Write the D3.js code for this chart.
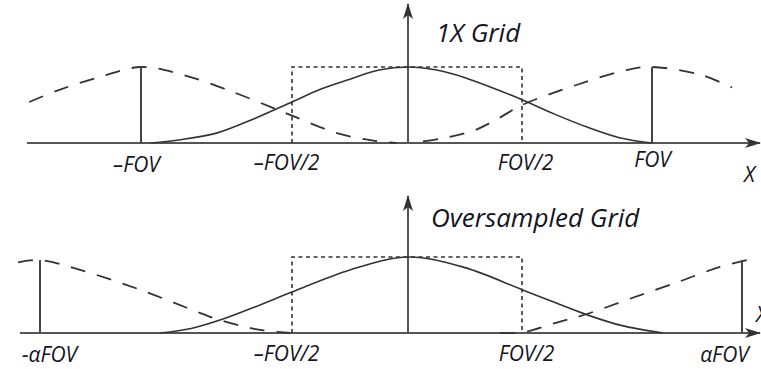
<!DOCTYPE html>
<html>
<head>
<meta charset="utf-8">
<script src="https://cdn.jsdelivr.net/npm/d3@7"></script>
<style>
  body { margin: 0; background: #fff; }
  svg text { font-family: "Open Sans", sans-serif; font-style: italic; font-weight: 500; fill: #15151f; }
</style>
</head>
<body>
<script>
// Tick positions (units of FOV) and labels
const topTicks = [-1, -0.5, 0.5, 1];
const topTickLabels = ["\u2013FOV", "\u2013FOV/2", "FOV/2", "FOV"];
const botTicks = [-1.5, -0.5, 0.5, 1.5];
const botTickLabels = ["-\u03b1FOV", "\u2013FOV/2", "FOV/2", "\u03b1FOV"];

// 1X grid: kernel at 0 (solid) and replicas at -FOV / +FOV (dashed), height relative to peak
const topKernelX = [-0.967, -0.875, -0.75, -0.625, -0.5, -0.375, -0.25, -0.125, 0, 0.125, 0.25, 0.375, 0.5, 0.625, 0.75, 0.875, 1];
const topKernelY = [0, 0.04, 0.13, 0.32, 0.54, 0.71, 0.84, 0.96, 1, 0.96, 0.86, 0.72, 0.57, 0.38, 0.21, 0.07, 0];
const topLeftX = [-1.37, -1.27, -1.136, -1, -0.864, -0.695, -0.556, -0.5, -0.306, -0.15, -0.05];
const topLeftY = [0.54, 0.70, 0.87, 1, 0.9, 0.67, 0.45, 0.36, 0.13, 0.03, 0];
const topRightX = [0.066, 0.15, 0.294, 0.4, 0.5, 0.715, 0.915, 1, 1.185, 1.308];
const topRightY = [0.02, 0.06, 0.17, 0.33, 0.5, 0.77, 0.97, 1, 0.9, 0.73];
const topSpikes = [-1, 1];
const topSpikeH = [1, 1];

// Oversampled grid: replicas at -aFOV / +aFOV
const botKernelX = [-1.024, -0.9, -0.786, -0.65, -0.5, -0.25, 0, 0.25, 0.5, 0.65, 0.795, 0.95, 1.14];
const botKernelY = [0, 0.06, 0.17, 0.34, 0.54, 0.83, 1, 0.86, 0.57, 0.4, 0.24, 0.1, 0];
const botLeftX = [-1.587, -1.5, -1.341, -1.103, -0.893, -0.786, -0.627, -0.508];
const botLeftY = [0.93, 0.96, 0.83, 0.57, 0.3, 0.17, 0.04, 0];
const botRightX = [0.404, 0.505, 0.65, 0.795, 0.99, 1.218, 1.4, 1.523];
const botRightY = [0, 0.01, 0.13, 0.25, 0.45, 0.68, 0.87, 0.96];
const botSpikes = [-1.5, 1.5];
const botSpikeH = [0.96, 0.96];

// Field of view box
const boxX = [-0.5, 0.5];
const boxH = 1;

const width = 761, height = 369;

const svg = d3.select("body").append("svg")
    .attr("width", width)
    .attr("height", height);

const defs = svg.append("defs");
defs.append("marker")
    .attr("id", "arrow")
    .attr("viewBox", "0 0 16 10")
    .attr("refX", 15).attr("refY", 5)
    .attr("markerWidth", 16).attr("markerHeight", 10)
    .attr("markerUnits", "userSpaceOnUse")
    .attr("orient", "auto")
    .append("path")
    .attr("d", "M0,0 L16,5 L0,10 L4,5 Z")
    .attr("fill", "#333");

function panel(cfg) {
    const x = d3.scaleLinear().domain(cfg.domain).range(cfg.range);
    const y = d3.scaleLinear().domain([0, 1]).range([cfg.base, cfg.peak]);
    const g = svg.append("g");

    // horizontal axis with arrow
    g.append("line")
        .attr("x1", cfg.axisStart).attr("x2", 760)
        .attr("y1", cfg.base).attr("y2", cfg.base)
        .attr("stroke", "#555").attr("stroke-width", 2)
        .attr("marker-end", "url(#arrow)");

    // vertical axis with arrow
    g.append("line")
        .attr("x1", x(0)).attr("x2", x(0))
        .attr("y1", cfg.base).attr("y2", cfg.top)
        .attr("stroke", "#555").attr("stroke-width", 2)
        .attr("marker-end", "url(#arrow)");

    // tick labels
    const axis = g.append("g")
        .attr("transform", `translate(0,${cfg.base})`)
        .call(d3.axisBottom(x).tickValues(cfg.ticks)
            .tickFormat((d, i) => cfg.labels[i])
            .tickSize(0).tickPadding(14));
    axis.select(".domain").remove();
    axis.selectAll("text")
        .attr("font-size", 21)
        .attr("dx", (d, i) => cfg.labelDx[i])
        .attr("dy", (d, i) => (0.71 * 21 + cfg.labelDy[i]) + "px");
    axis.attr("font-family", null).attr("font-size", null);

    // dotted FOV box
    g.append("path")
        .attr("d", d3.line()([[x(boxX[0]), y(0)], [x(boxX[0]), y(boxH)], [x(boxX[1]), y(boxH)], [x(boxX[1]), y(0)]]))
        .attr("fill", "none")
        .attr("stroke", "#333")
        .attr("stroke-width", 1.6)
        .attr("stroke-dasharray", "4,3.5");

    const line = d3.line()
        .x(d => x(d[0]))
        .y(d => y(d[1]))
        .curve(d3.curveCatmullRom);

    // replicas (dashed)
    [[cfg.leftX, cfg.leftY], [cfg.rightX, cfg.rightY]].forEach(s => {
        g.append("path")
            .datum(d3.zip(s[0], s[1]))
            .attr("fill", "none")
            .attr("stroke", "#333")
            .attr("stroke-width", 1.8)
            .attr("stroke-dasharray", "15,12")
            .attr("d", line);
    });

    // kernel (solid)
    g.append("path")
        .datum(d3.zip(cfg.kernelX, cfg.kernelY))
        .attr("fill", "none")
        .attr("stroke", "#333")
        .attr("stroke-width", 1.6)
        .attr("d", line);

    // sample spikes
    g.selectAll(".spike")
        .data(d3.zip(cfg.spikes, cfg.spikeH))
        .enter()
        .append("line")
        .attr("x1", d => x(d[0])).attr("x2", d => x(d[0]))
        .attr("y1", y(0)).attr("y2", d => y(d[1]))
        .attr("stroke", "#444")
        .attr("stroke-width", 2);

    // title
    g.append("text")
        .attr("x", cfg.titleX).attr("y", cfg.titleY)
        .attr("font-size", 26)
        .text(cfg.title);

    // x label (the lower one runs off the right edge, as in the source figure)
    g.append("text")
        .attr("x", cfg.xLabelX).attr("y", cfg.xLabelY)
        .attr("font-size", 21)
        .text("X");
}

panel({
    domain: [-1, -0.5, 0, 0.5, 1], range: [141, 292, 408, 522, 652],
    base: 143, peak: 67, top: 4, axisStart: 27,
    ticks: topTicks, labels: topTickLabels,
    labelDx: [-5, -6, 3, 0], labelDy: [0, -2, -2, -5],
    kernelX: topKernelX, kernelY: topKernelY,
    leftX: topLeftX, leftY: topLeftY,
    rightX: topRightX, rightY: topRightY,
    spikes: topSpikes, spikeH: topSpikeH,
    title: "1X Grid", titleX: 436, titleY: 42,
    xLabelX: 744, xLabelY: 182
});

panel({
    domain: [-1.5, -0.5, 0, 0.5, 1.5], range: [40, 292, 408, 522, 742],
    base: 333, peak: 257, top: 196, axisStart: 20,
    ticks: botTicks, labels: botTickLabels,
    labelDx: [9, -6, 4, -18], labelDy: [0, -1, -1, 0],
    kernelX: botKernelX, kernelY: botKernelY,
    leftX: botLeftX, leftY: botLeftY,
    rightX: botRightX, rightY: botRightY,
    spikes: botSpikes, spikeH: botSpikeH,
    title: "Oversampled Grid", titleX: 431, titleY: 227,
    xLabelX: 756, xLabelY: 322
});
</script>
</body>
</html>
